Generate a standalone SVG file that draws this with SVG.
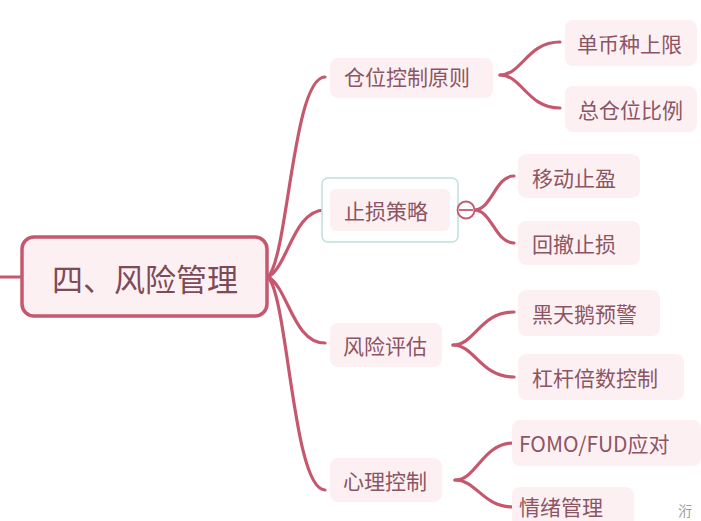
<svg xmlns="http://www.w3.org/2000/svg" width="701" height="521" viewBox="0 0 701 521">
<style>
.ln{fill:none;stroke:#c5586f;stroke-width:3.2;stroke-linecap:round}
.bg{fill:#fdf0f3}
.t{font-family:"Noto Sans CJK SC","Noto Sans",sans-serif;font-size:21px;fill:#8c5563;dominant-baseline:central}
.m{font-family:"Noto Sans CJK SC","Noto Sans",sans-serif;font-size:31px;fill:#7d4a57;dominant-baseline:central;text-anchor:middle}
</style>
<rect width="701" height="521" fill="#ffffff"/>
<g id="connectors">
<path class="ln" d="M0,277 L22,277"/>
<path class="ln" d="M268,277 C288,257 293,77 325,77"/>
<path class="ln" d="M268,277 C288,267 293,210 325,210"/>
<path class="ln" d="M268,277 C288,287 293,343 325,343"/>
<path class="ln" d="M268,277 C288,297 293,490 325,490"/>
<path class="ln" d="M500,75 C522,75 527,42 560,42"/>
<path class="ln" d="M500,75 C522,75 527,108 560,108"/>
<path class="ln" d="M474,210 C492,210 495,176 514,176"/>
<path class="ln" d="M474,210 C492,210 495,243 514,243"/>
<path class="ln" d="M453,345 C475,345 480,312 514,312"/>
<path class="ln" d="M453,345 C475,345 480,377 514,377"/>
<path class="ln" d="M455,480 C477,480 482,443 514,443"/>
<path class="ln" d="M455,480 C477,480 482,507 514,507"/>
</g>
<g id="root">
<rect x="22" y="237" width="245" height="79" rx="12" fill="#fdf0f3" stroke="#c5586f" stroke-width="3.5"/>
<text class="m" x="145" y="277">四、风险管理</text>
</g>
<g id="n-cangwei">
<rect class="bg" x="330" y="58" width="163" height="40" rx="8"/>
<text class="t" x="344" y="76">仓位控制原则</text>
</g>
<g id="n-zhisun">
<rect x="322" y="178" width="136" height="64" rx="6" fill="#ffffff" stroke="#bfe0dc" stroke-width="1.5"/>
<rect class="bg" x="330" y="189" width="120" height="42" rx="6"/>
<text class="t" x="344" y="210">止损策略</text>
<circle cx="466" cy="210" r="8.5" fill="#ffffff" stroke="#c5586f" stroke-width="1.8"/>
<line x1="459" y1="210" x2="473" y2="210" stroke="#c5586f" stroke-width="1.8"/>
</g>
<g id="n-fengxian">
<rect class="bg" x="330" y="323" width="112" height="44" rx="8"/>
<text class="t" x="343" y="345">风险评估</text>
</g>
<g id="n-xinli">
<rect class="bg" x="330" y="458" width="112" height="44" rx="8"/>
<text class="t" x="343" y="480">心理控制</text>
</g>
<g id="l-danbi">
<rect class="bg" x="565" y="20" width="132" height="46" rx="8"/>
<text class="t" x="577" y="43">单币种上限</text>
</g>
<g id="l-zongcang">
<rect class="bg" x="565" y="86" width="132" height="46" rx="8"/>
<text class="t" x="578" y="109">总仓位比例</text>
</g>
<g id="l-yidong">
<rect class="bg" x="518" y="154" width="122" height="44" rx="8"/>
<text class="t" x="532" y="177">移动止盈</text>
</g>
<g id="l-huiche">
<rect class="bg" x="518" y="221" width="122" height="44" rx="8"/>
<text class="t" x="532" y="243">回撤止损</text>
</g>
<g id="l-heitian">
<rect class="bg" x="518" y="290" width="142" height="46" rx="8"/>
<text class="t" x="532" y="313">黑天鹅预警</text>
</g>
<g id="l-ganggan">
<rect class="bg" x="518" y="354" width="166" height="46" rx="8"/>
<text class="t" x="532" y="377">杠杆倍数控制</text>
</g>
<g id="l-fomo">
<rect class="bg" x="512" y="420" width="189" height="46" rx="8"/>
<text class="t" x="519" y="443">FOMO/FUD应对</text>
</g>
<g id="l-qingxu">
<rect class="bg" x="512" y="487" width="122" height="40" rx="8"/>
<text class="t" x="519" y="506">情绪管理</text>
</g>
<text x="678" y="516" font-family="Noto Sans CJK SC,sans-serif" font-size="14" fill="#9a9a9a">洐</text>
</svg>
